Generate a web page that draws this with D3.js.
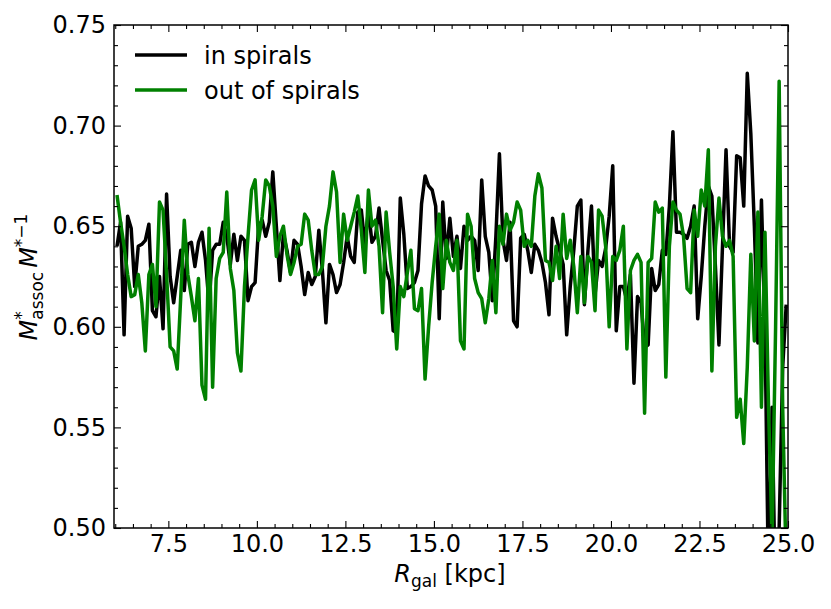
<!DOCTYPE html>
<html>
<head>
<meta charset="utf-8">
<script src="https://cdn.jsdelivr.net/npm/d3@7"></script>
<style>
  html, body { margin: 0; padding: 0; background: #fff; }
  svg { display: block; font-family: "DejaVu Sans", sans-serif; }
</style>
</head>
<body>
<svg id="chart" width="831" height="609"></svg>
<script>
// Radial bins (kpc), 0.1 kpc bins starting at 6.05
const radius = d3.range(190).map(i => +(6.05 + 0.1 * i).toFixed(2));

const inSpirals = [
0.640,0.652,0.596,0.655,0.649,0.620,0.640,0.641,0.643,0.651,
0.608,0.605,0.625,0.599,0.666,0.625,0.612,0.625,0.638,0.618,
0.641,0.642,0.630,0.642,0.647,0.633,0.611,0.638,0.641,0.641,
0.652,0.645,0.631,0.646,0.633,0.645,0.643,0.613,0.620,0.622,
0.650,0.653,0.645,0.652,0.677,0.650,0.623,0.646,0.638,0.627,
0.643,0.641,0.630,0.616,0.627,0.621,0.625,0.648,0.628,0.602,
0.631,0.626,0.617,0.621,0.632,0.645,0.635,0.632,0.657,0.658,
0.641,0.658,0.642,0.645,0.659,0.643,0.628,0.623,0.598,0.597,
0.664,0.646,0.619,0.620,0.622,0.628,0.661,0.675,0.670,0.668,
0.660,0.604,0.662,0.634,0.654,0.635,0.645,0.629,0.650,0.643,
0.645,0.643,0.628,0.673,0.645,0.637,0.613,0.645,0.686,0.643,
0.633,0.652,0.603,0.600,0.644,0.646,0.638,0.627,0.641,0.638,
0.632,0.622,0.606,0.654,0.645,0.638,0.631,0.596,0.620,0.638,
0.660,0.663,0.611,0.638,0.660,0.616,0.633,0.630,0.639,0.655,
0.680,0.598,0.620,0.620,0.613,0.626,0.572,0.615,0.612,0.590,
0.591,0.629,0.618,0.621,0.638,0.636,0.660,0.697,0.647,0.647,
0.646,0.644,0.650,0.660,0.604,0.625,0.650,0.670,0.665,0.630,
0.591,0.640,0.688,0.640,0.637,0.685,0.684,0.660,0.726,0.696,
0.650,0.592,0.663,0.600,0.470,0.560,0.460,0.500,0.580,0.611
];

const outSpirals = [
0.6655,0.652,0.640,0.626,0.615,0.616,0.626,0.612,0.588,0.626,
0.631,0.610,0.662,0.658,0.626,0.590,0.588,0.579,0.615,0.653,
0.626,0.615,0.603,0.624,0.571,0.564,0.649,0.570,0.624,0.634,
0.637,0.667,0.629,0.618,0.587,0.578,0.620,0.645,0.668,0.673,
0.643,0.655,0.673,0.670,0.660,0.635,0.645,0.650,0.636,0.626,
0.632,0.640,0.641,0.656,0.653,0.638,0.626,0.626,0.630,0.650,
0.660,0.677,0.667,0.632,0.656,0.643,0.650,0.657,0.665,0.648,
0.627,0.668,0.650,0.653,0.640,0.607,0.657,0.637,0.620,0.589,
0.620,0.615,0.627,0.638,0.609,0.608,0.619,0.574,0.600,0.622,
0.640,0.656,0.619,0.643,0.632,0.628,0.643,0.593,0.589,0.656,
0.650,0.624,0.617,0.614,0.602,0.614,0.633,0.607,0.650,0.641,
0.656,0.648,0.652,0.662,0.658,0.640,0.643,0.640,0.665,0.676,
0.669,0.633,0.632,0.623,0.640,0.624,0.656,0.634,0.643,0.630,
0.607,0.635,0.612,0.635,0.632,0.608,0.658,0.655,0.640,0.600,
0.635,0.633,0.638,0.650,0.589,0.628,0.633,0.636,0.632,0.557,
0.632,0.634,0.662,0.657,0.659,0.575,0.640,0.662,0.658,0.656,
0.645,0.619,0.617,0.658,0.645,0.668,0.660,0.688,0.578,0.640,
0.664,0.645,0.640,0.643,0.635,0.555,0.564,0.542,0.580,0.636,
0.593,0.657,0.560,0.647,0.560,0.495,0.600,0.722,0.560,0.480
];

const seriesNames = ["in spirals", "out of spirals"];
const seriesColors = ["#000000", "#008000"];
const xMajorTicks = [7.5, 10.0, 12.5, 15.0, 17.5, 20.0, 22.5, 25.0];
const yMajorTicks = [0.50, 0.55, 0.60, 0.65, 0.70, 0.75];
const xMinorTicks = [6.0,6.5,7.0,8.0,8.5,9.0,9.5,10.5,11.0,11.5,12.0,13.0,13.5,14.0,14.5,15.5,16.0,16.5,17.0,18.0,18.5,19.0,19.5,20.5,21.0,21.5,22.0,23.0,23.5,24.0,24.5];
const yMinorTicks = [0.51,0.52,0.53,0.54,0.56,0.57,0.58,0.59,0.61,0.62,0.63,0.64,0.66,0.67,0.68,0.69,0.71,0.72,0.73,0.74];

const L = 114, R = 788, T = 25, B = 528;
const svg = d3.select("#chart");

const x = d3.scaleLinear().domain([5.965, 25.0]).range([L, R]);
const y = d3.scaleLinear().domain([0.50, 0.75]).range([B, T]);

svg.append("defs").append("clipPath").attr("id", "plotclip")
  .append("rect").attr("x", L).attr("y", T).attr("width", R - L).attr("height", B - T);

// series
const line = d3.line().x((d, i) => x(radius[i])).y(d => y(d));
const plot = svg.append("g").attr("clip-path", "url(#plotclip)");
[inSpirals, outSpirals].forEach((vals, si) => {
  plot.append("path")
    .datum(vals)
    .attr("d", line)
    .attr("fill", "none")
    .attr("stroke", seriesColors[si])
    .attr("stroke-width", 3.5)
    .attr("stroke-linejoin", "round");
});

// axes
function styleAxis(g) {
  g.select(".domain").remove();
  g.selectAll("line").attr("stroke", "#000").attr("stroke-width", 1.1);
  g.selectAll("text").attr("font-size", 24).attr("fill", "#000").attr("font-family", "DejaVu Sans, sans-serif");
}
const fx = d3.format(".1f"), fy = d3.format(".2f");

svg.append("g").attr("transform", `translate(0,${B})`)
  .call(d3.axisBottom(x).tickValues(xMajorTicks).tickFormat(fx).tickSizeInner(-7).tickSizeOuter(0).tickPadding(7))
  .call(styleAxis);
svg.append("g").attr("transform", `translate(0,${B})`)
  .call(d3.axisBottom(x).tickValues(xMinorTicks).tickFormat("").tickSizeInner(-4).tickSizeOuter(0))
  .call(styleAxis);
svg.append("g").attr("transform", `translate(0,${T})`)
  .call(d3.axisTop(x).tickValues(xMajorTicks).tickFormat("").tickSizeInner(-7).tickSizeOuter(0))
  .call(styleAxis);
svg.append("g").attr("transform", `translate(0,${T})`)
  .call(d3.axisTop(x).tickValues(xMinorTicks).tickFormat("").tickSizeInner(-4).tickSizeOuter(0))
  .call(styleAxis);

svg.append("g").attr("transform", `translate(${L},0)`)
  .call(d3.axisLeft(y).tickValues(yMajorTicks).tickFormat(fy).tickSizeInner(-7).tickSizeOuter(0).tickPadding(8))
  .call(styleAxis);
svg.append("g").attr("transform", `translate(${L},0)`)
  .call(d3.axisLeft(y).tickValues(yMinorTicks).tickFormat("").tickSizeInner(-4).tickSizeOuter(0))
  .call(styleAxis);
svg.append("g").attr("transform", `translate(${R},0)`)
  .call(d3.axisRight(y).tickValues(yMajorTicks).tickFormat("").tickSizeInner(-7).tickSizeOuter(0))
  .call(styleAxis);
svg.append("g").attr("transform", `translate(${R},0)`)
  .call(d3.axisRight(y).tickValues(yMinorTicks).tickFormat("").tickSizeInner(-4).tickSizeOuter(0))
  .call(styleAxis);

// frame
svg.append("rect").attr("x", L).attr("y", T).attr("width", R - L).attr("height", B - T)
  .attr("fill", "none").attr("stroke", "#000").attr("stroke-width", 1.5);

// x label
const xl = svg.append("text").attr("x", 450).attr("y", 582).attr("text-anchor", "middle")
  .attr("font-size", 24).attr("fill", "#000");
xl.append("tspan").attr("font-style", "italic").text("R");
xl.append("tspan").attr("font-size", 17).attr("dy", 5).text("gal");
xl.append("tspan").attr("dy", -5).text("\u00a0[kpc]");

// y label
const yl = svg.append("text").attr("transform", "translate(37,277) rotate(-90)")
  .attr("text-anchor", "middle").attr("font-size", 24).attr("fill", "#000");
yl.append("tspan").attr("font-style", "italic").text("M");
yl.append("tspan").attr("font-size", 17).attr("dy", -10).text("*");
yl.append("tspan").attr("font-size", 17).attr("dx", -8.5).attr("dy", 16).text("assoc");
yl.append("tspan").attr("font-style", "italic").attr("dx", 4).attr("dy", -6).text("M");
yl.append("tspan").attr("font-size", 17).attr("dy", -10).text("*\u22121");

// legend
const legendY = [55, 90];
seriesNames.forEach((name, i) => {
  svg.append("line").attr("x1", 135).attr("x2", 187).attr("y1", legendY[i]).attr("y2", legendY[i])
    .attr("stroke", seriesColors[i]).attr("stroke-width", 3.5);
  svg.append("text").attr("x", 204).attr("y", legendY[i] + 8.5).attr("font-size", 24)
    .attr("fill", "#000").text(name);
});
</script>
</body>
</html>
